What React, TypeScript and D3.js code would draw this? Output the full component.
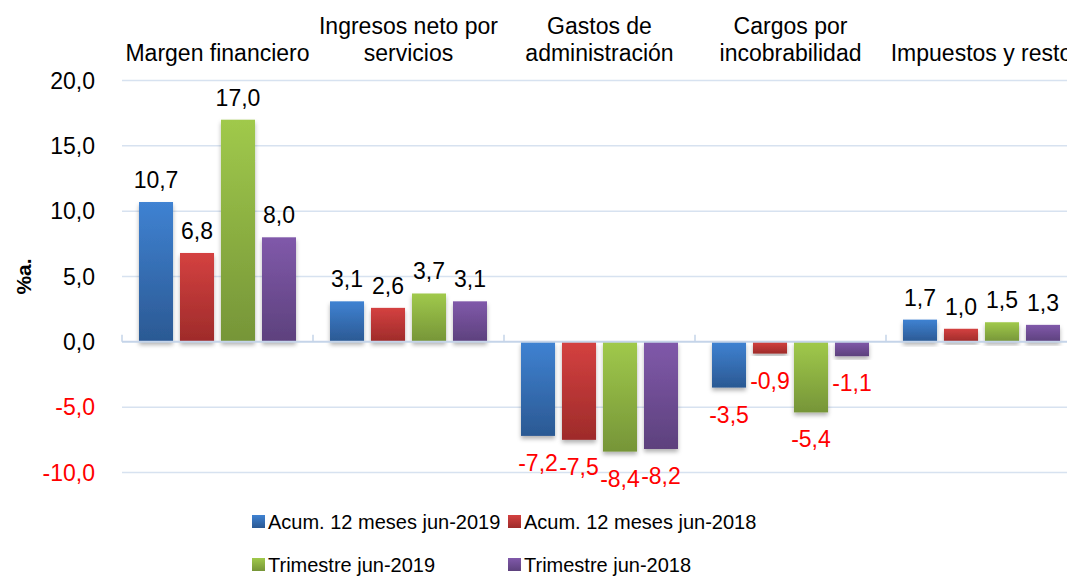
import React from 'react'
import * as d3 from 'd3'

// categories (top labels, split into lines)
const categories = [
  ['Margen financiero'],
  ['Ingresos neto por', 'servicios'],
  ['Gastos de', 'administración'],
  ['Cargos por', 'incobrabilidad'],
  ['Impuestos y resto']
]

const seriesNames = [
  'Acum. 12 meses jun-2019',
  'Acum. 12 meses jun-2018',
  'Trimestre jun-2019',
  'Trimestre jun-2018'
]

const acum2019 = [10.7, 3.1, -7.2, -3.5, 1.7]
const acum2018 = [6.8, 2.6, -7.5, -0.9, 1.0]
const trim2019 = [17.0, 3.7, -8.4, -5.4, 1.5]
const trim2018 = [8.0, 3.1, -8.2, -1.1, 1.3]

const yTicks = [20, 15, 10, 5, 0, -5, -10]

const seriesColors = [
  ['#3f82d2', '#2b5993'],
  ['#d44140', '#9e2b2a'],
  ['#a0c94b', '#769538'],
  ['#8059aa', '#5d417d']
]

const W = 1067
const H = 577
const FONT = '"Liberation Sans", Arial, sans-serif'

const fmt = (v: number) => v.toFixed(1).replace('.', ',')

export default function App () {
  const values = [acum2019, acum2018, trim2019, trim2018]
  const catIdx = categories.map((_, i) => String(i))

  const x0 = d3.scaleBand().domain(catIdx).range([122, 1077]).padding(0)
  const x1 = d3.scaleBand()
    .domain(seriesNames)
    .range([17, x0.bandwidth() - 17])
    .paddingInner(0.17)
  const y = d3.scaleLinear().domain([-10, 20]).range([472.5, 80.5])

  return (
    <div style={{position: 'absolute', left: 0, top: 0}}>
      <svg width={W} height={H} style={{display: 'block', overflow: 'hidden'}} fontFamily={FONT}>
        <defs>
          {seriesColors.map((c, i) => (
            <linearGradient key={i} id={'grad' + i} x1='0' y1='0' x2='0' y2='1'>
              <stop offset='0%' stopColor={c[0]} />
              <stop offset='100%' stopColor={c[1]} />
            </linearGradient>
          ))}
          <filter id='shadow' x='-20%' y='-20%' width='140%' height='140%'>
            <feDropShadow dx='0' dy='3' stdDeviation='2' floodColor='#000' floodOpacity='0.3' />
          </filter>
        </defs>

        {/* gridlines */}
        {yTicks.filter(t => t !== 0).map(t => (
          <line key={t} x1={122} x2={W} y1={y(t)} y2={y(t)} stroke='#d7e2f0' strokeWidth={1.5} />
        ))}

        {/* y tick labels */}
        {yTicks.map(t => (
          <text key={t} x={95} y={y(t)} dy='0.36em' textAnchor='end' fontSize={23}
            fill={t < 0 ? '#ff0000' : '#000'}>{fmt(t)}</text>
        ))}

        <text transform={`translate(24,${y(5)}) rotate(-90)`} textAnchor='middle' fontSize={21}
          fontWeight='bold' dy='0.35em'>%a.</text>

        {/* category labels on top */}
        {categories.map((lines, i) => {
          const cx = (x0(String(i)) as number) + x0.bandwidth() / 2
          return (
            <text key={i} x={cx} textAnchor='middle' fontSize={23} fill='#000'>
              {lines.map((l, j) => (
                <tspan key={j} x={cx} y={61 - (lines.length - 1 - j) * 27}>{l}</tspan>
              ))}
            </text>
          )
        })}

        {/* bars */}
        {categories.map((_, i) => (
          <g key={i} transform={`translate(${x0(String(i))},0)`}>
            {seriesNames.map((s, k) => {
              const v = values[k][i]
              const top = y(Math.max(0, v))
              const bottom = y(Math.min(0, v))
              return (
                <rect key={s} x={x1(s)} y={top} width={x1.bandwidth()} height={bottom - top}
                  fill={`url(#grad${k})`} filter='url(#shadow)' />
              )
            })}
          </g>
        ))}

        {/* zero axis and ticks */}
        <line x1={122} x2={W} y1={y(0)} y2={y(0)} stroke='#c5d4e9' strokeWidth={2} />
        {categories.map((_, i) => (
          <line key={i} x1={x0(String(i))} x2={x0(String(i))} y1={y(0) - 7} y2={y(0)}
            stroke='#c5d4e9' strokeWidth={1.5} />
        ))}

        {/* value labels */}
        {categories.map((_, i) => (
          <g key={i} transform={`translate(${x0(String(i))},0)`}>
            {seriesNames.map((s, k) => {
              const v = values[k][i]
              const cx = (x1(s) as number) + x1.bandwidth() / 2
              return v >= 0
                ? <text key={s} x={cx} y={y(v) - 14} textAnchor='middle' fontSize={23} fill='#000'>{fmt(v)}</text>
                : <text key={s} x={cx} y={y(v) + 35} textAnchor='middle' fontSize={23} fill='#ff0000'>{fmt(v)}</text>
            })}
          </g>
        ))}

        {/* legend */}
        {seriesNames.map((s, k) => {
          const lx = k % 2 === 0 ? 252 : 508
          const ly = k < 2 ? 522 : 565
          return (
            <g key={s} transform={`translate(${lx},${ly})`}>
              <rect x={0} y={-7} width={13} height={13} fill={`url(#grad${k})`} />
              <text x={16} y={0} dy='0.36em' fontSize={20} fill='#000'>{s}</text>
            </g>
          )
        })}
      </svg>
    </div>
  )
}
